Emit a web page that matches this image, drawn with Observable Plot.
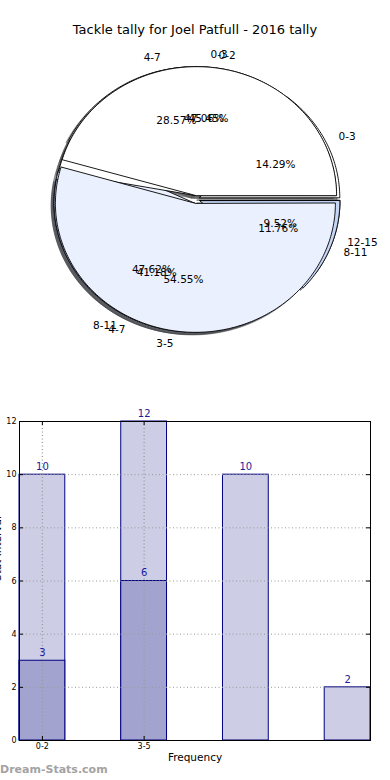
<!DOCTYPE html>
<html>
<head>
<meta charset="utf-8">
<script src="https://cdn.jsdelivr.net/npm/d3@7"></script>
<script src="https://cdn.jsdelivr.net/npm/@observablehq/plot@0.6"></script>
<style>
  html, body { margin: 0; padding: 0; background: #ffffff; }
  body { width: 390px; height: 780px; position: relative; overflow: hidden; font-family: "DejaVu Sans", sans-serif; }
  #title { position: absolute; top: 22px; left: 0; width: 390px; text-align: center; font-size: 13px; line-height: 15px; color: #000; }
  #pie { position: absolute; top: 40px; left: 0; }
  #bar { position: absolute; top: 400px; left: 0; }
  #wm { position: absolute; left: 0; top: 763px; font-size: 11px; font-weight: bold; line-height: 14px; color: #a3a3a3; }
</style>
</head>
<body>
<div id="title">Tackle tally for Joel Patfull - 2016 tally</div>
<div id="pie"></div>
<div id="bar"></div>
<div id="wm">Dream-Stats.com</div>
<script>
// ---------- data ----------
const pieALabels = ["0-2", "3-5"];
const pieAValues = [10, 12];
const pieBLabels = ["0-3", "4-7", "8-11", "12-15"];
const pieBValues = [3, 6, 10, 2];
const pieCLabels = ["0-3", "4-7", "8-11"];
const pieCValues = [8, 7, 2];

const barPositions = [0, 1, 2, 3];
const barLightValues = [10, 12, 10, 2];
const barDarkPositions = [0, 1];
const barDarkValues = [3, 6];
const xTickLabels = ["0-2", "3-5"];
const yTicks = [0, 2, 4, 6, 8, 10, 12];

// ---------- styles ----------
const pieAColors = ["#ffffff", "#eaf0fd"];
const pieBColors = ["#ffffff", "#ffffff", "#eaf0fd", "#c5d6f7"];
const pieCColors = ["#ffffff", "#c5d6f7", "#c5d6f7"];
const lightBar = "#cdcde5";
const darkBar = "#a3a3d0";
const barEdge = "#000080";
const valueColor = "#1c1c9c";

// ---------- pie chart ----------
const rx = 140, ry = 129, cx = 195.5, cy = 159, pieW = 390, pieH = 330;
const explode = 0.03, shadowOff = 0.02;
const pies = [
  {labels: pieBLabels, values: pieBValues, colors: pieBColors},
  {labels: pieCLabels, values: pieCValues, colors: pieCColors},
  {labels: pieALabels, values: pieAValues, colors: pieAColors}
];
const rad = Math.PI / 180;
const wedgeMarks = [], shadowMarks = [], labelData = [], pctData = [];
for (const pie of pies) {
  const total = d3.sum(pie.values);
  let cum = 0;
  pie.values.forEach((v, i) => {
    const t1 = 360 * cum / total;
    cum += v;
    const t2 = 360 * cum / total;
    const m = (t1 + t2) / 2;
    const ox = explode * Math.cos(m * rad), oy = explode * Math.sin(m * rad);
    const pts = [[ox, oy]];
    const n = Math.max(2, Math.ceil(t2 - t1) + 1);
    for (let k = 0; k <= n; k++) {
      const t = (t1 + (t2 - t1) * k / n) * rad;
      pts.push([ox + Math.cos(t), oy + Math.sin(t)]);
    }
    const col = d3.rgb(pie.colors[i]);
    const sh = d3.rgb(col.r * 0.3, col.g * 0.3, col.b * 0.3).formatHex();
    shadowMarks.push(Plot.line(pts.map(p => [p[0] - shadowOff, p[1] - shadowOff]), {
      x: d => d[0], y: d => d[1], curve: "linear-closed",
      fill: sh, fillOpacity: 0.5, stroke: sh, strokeOpacity: 0.5, strokeWidth: 1
    }));
    wedgeMarks.push(Plot.line(pts, {
      x: d => d[0], y: d => d[1], curve: "linear-closed",
      fill: pie.colors[i], stroke: "black", strokeWidth: 0.9
    }));
    const lx = ox + 1.1 * Math.cos(m * rad), ly = oy + 1.1 * Math.sin(m * rad);
    labelData.push({x: lx, y: ly, text: pie.labels[i]});
    pctData.push({x: ox + 0.6 * Math.cos(m * rad), y: oy + 0.6 * Math.sin(m * rad),
                  text: (100 * v / total).toFixed(2) + "%"});
  });
}

const piePlot = Plot.plot({
  width: pieW, height: pieH, margin: 0,
  style: {fontFamily: "DejaVu Sans", background: "transparent", overflow: "visible"},
  x: {domain: [-cx / rx, (pieW - cx) / rx], axis: null},
  y: {domain: [-(pieH - cy) / ry, cy / ry], axis: null},
  marks: [
    ...shadowMarks,
    ...wedgeMarks,
    Plot.text(pctData, {x: "x", y: "y", text: "text", fontSize: 10.5, fill: "black"}),
    Plot.text(labelData.filter(d => d.x > 0), {x: "x", y: "y", text: "text", textAnchor: "start", fontSize: 10.5, fill: "black"}),
    Plot.text(labelData.filter(d => d.x <= 0), {x: "x", y: "y", text: "text", textAnchor: "end", fontSize: 10.5, fill: "black"})
  ]
});
document.getElementById("pie").appendChild(piePlot);

// ---------- bar chart ----------
const halfW = 0.225;
const xMin = -0.225, xMax = 3.225;
const pxPerX = (390 - 19 - 20) / (xMax - xMin);
const pxPerY = (375 - 21 - 35) / 12;
const tickX = 4 / pxPerX, tickY = 4 / pxPerY;

const light = barPositions.map((p, i) => ({p, v: barLightValues[i]}));
const dark = barDarkPositions.map((p, i) => ({p, v: barDarkValues[i]}));

const barPlot = Plot.plot({
  width: 390, height: 375,
  marginLeft: 19, marginRight: 20, marginTop: 21, marginBottom: 35,
  style: {fontFamily: "DejaVu Sans", background: "transparent", overflow: "visible"},
  x: {domain: [xMin, xMax]},
  y: {domain: [0, 12]},
  marks: [
    Plot.rect(light, {x1: d => d.p - halfW, x2: d => d.p + halfW, y1: 0, y2: "v", fill: lightBar, stroke: barEdge, strokeWidth: 1}),
    Plot.rect(dark, {x1: d => d.p - halfW, x2: d => d.p + halfW, y1: 0, y2: "v", fill: darkBar, stroke: barEdge, strokeWidth: 1}),
    Plot.gridY(yTicks, {stroke: "#9a9a9a", strokeOpacity: 1, strokeDasharray: "1,2.5"}),
    Plot.gridX([0, 1], {stroke: "#9a9a9a", strokeOpacity: 1, strokeDasharray: "1,2.5", strokeWidth: 1.3}),
    Plot.ruleY(yTicks, {y: d => d, x1: xMin, x2: xMin + tickX, stroke: "black"}),
    Plot.ruleY(yTicks, {y: d => d, x1: xMax - tickX, x2: xMax, stroke: "black"}),
    Plot.ruleX([0, 1], {x: d => d, y1: 0, y2: tickY, stroke: "black"}),
    Plot.ruleX([0, 1], {x: d => d, y1: 12 - tickY, y2: 12, stroke: "black"}),
    Plot.frame({stroke: "black", strokeWidth: 1}),
    Plot.text(light, {x: "p", y: "v", text: d => String(d.v), dy: -8, fontSize: 10, fill: valueColor}),
    Plot.text(dark, {x: "p", y: "v", text: d => String(d.v), dy: -8, fontSize: 10, fill: valueColor}),
    Plot.axisY({ticks: yTicks, tickSize: 0, tickPadding: 3, fontSize: 8, label: null}),
    Plot.axisX({ticks: [0, 1], tickFormat: d => xTickLabels[d], tickSize: 0, tickPadding: 3, fontSize: 8, label: null}),
    Plot.text(["Frequency"], {frameAnchor: "bottom", dy: 20, fontSize: 10.5, fill: "black"}),
    Plot.text(["Stat Interval"], {frameAnchor: "left", dx: -19, rotate: -90, lineAnchor: "bottom", fontSize: 10.5, fill: "black"})
  ]
});
document.getElementById("bar").appendChild(barPlot);
</script>
</body>
</html>
